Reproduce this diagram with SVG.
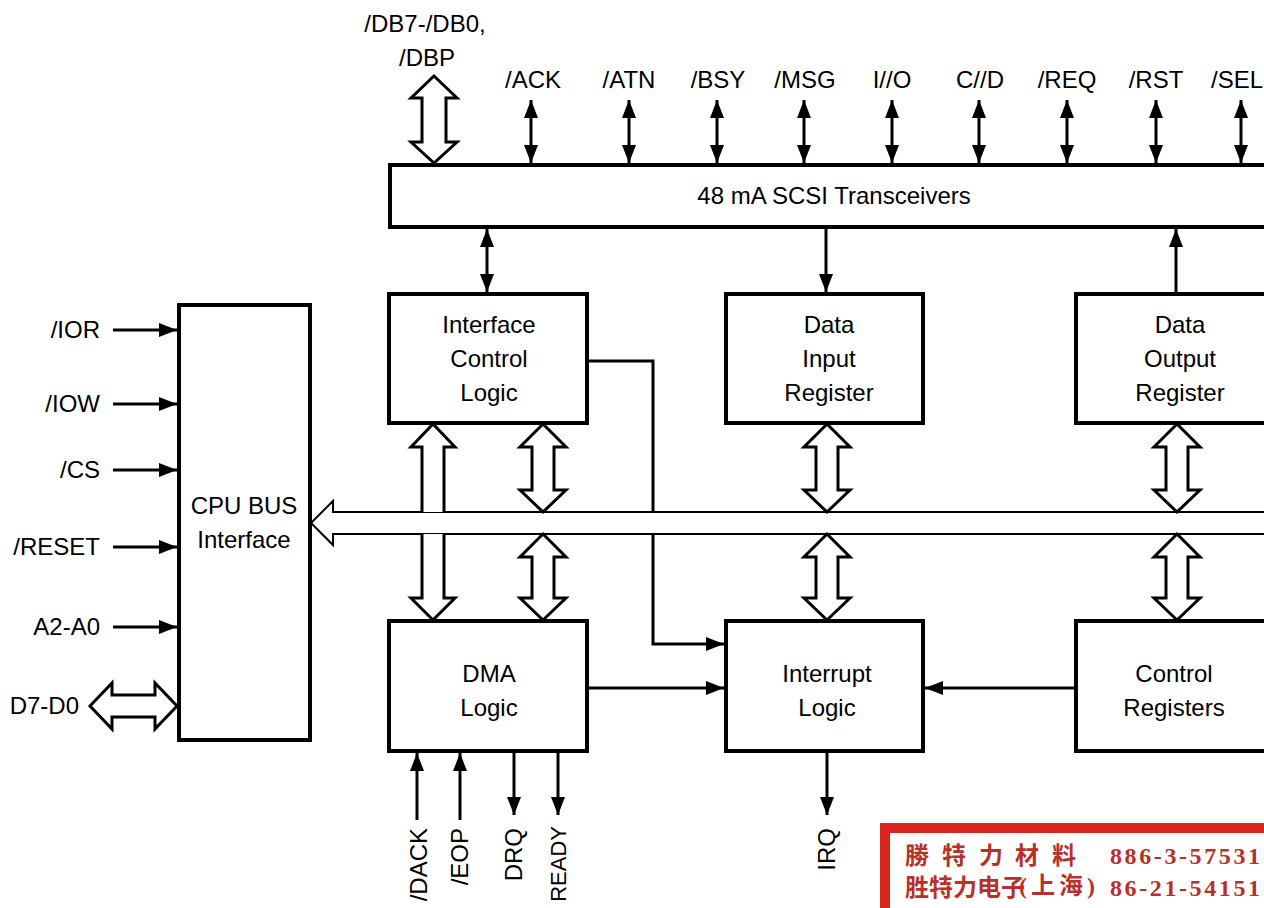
<svg xmlns="http://www.w3.org/2000/svg" width="1264" height="908" viewBox="0 0 1264 908">
<defs>
<style>
text{font-family:"Liberation Sans",Arial,sans-serif;font-size:24px;fill:#000}
.c{text-anchor:middle}
.r{text-anchor:end}
.box{fill:#fff;stroke:#000;stroke-width:4}
.ln{fill:none;stroke:#000;stroke-width:3}
.bus{fill:none;stroke:#000;stroke-width:2}
.ha{fill:#fff;stroke:#000;stroke-width:3;stroke-linejoin:miter}
.stamp{font-family:"Liberation Serif","Noto Sans CJK TC",serif;font-weight:bold;fill:#b8302a}
</style>
<marker id="ah" markerWidth="18" markerHeight="14" refX="18" refY="7" orient="auto-start-reverse" markerUnits="userSpaceOnUse">
<path d="M0,0 L18,7 L0,14 z" fill="#000"/>
</marker>
</defs>
<rect width="1264" height="908" fill="#fff"/>

<g id="transceivers">
<rect class="box" x="390" y="165" width="900" height="62"/>
<text class="c" x="834" y="204">48 mA SCSI Transceivers</text>
</g>

<g id="cpu-bus-interface">
<rect class="box" x="179" y="305" width="131" height="435"/>
<text class="c" x="244" y="514">CPU BUS</text>
<text class="c" x="244" y="548">Interface</text>
</g>

<g id="interface-control-logic">
<rect class="box" x="389" y="294" width="198" height="129"/>
<text class="c" x="489" y="333">Interface</text>
<text class="c" x="489" y="367">Control</text>
<text class="c" x="489" y="401">Logic</text>
</g>

<g id="data-input-register">
<rect class="box" x="726" y="294" width="197" height="129"/>
<text class="c" x="829" y="333">Data</text>
<text class="c" x="829" y="367">Input</text>
<text class="c" x="829" y="401">Register</text>
</g>

<g id="data-output-register">
<rect class="box" x="1076" y="294" width="210" height="129"/>
<text class="c" x="1180" y="333">Data</text>
<text class="c" x="1180" y="367">Output</text>
<text class="c" x="1180" y="401">Register</text>
</g>

<g id="dma-logic">
<rect class="box" x="389" y="621" width="198" height="130"/>
<text class="c" x="489" y="682">DMA</text>
<text class="c" x="489" y="716">Logic</text>
</g>

<g id="interrupt-logic">
<rect class="box" x="726" y="621" width="197" height="130"/>
<text class="c" x="827" y="682">Interrupt</text>
<text class="c" x="827" y="716">Logic</text>
</g>

<g id="control-registers">
<rect class="box" x="1076" y="621" width="210" height="130"/>
<text class="c" x="1174" y="682">Control</text>
<text class="c" x="1174" y="716">Registers</text>
</g>

<g id="connectors">
<path class="ha" d="M434,76 L457,98 L446,98 L446,142 L457,142 L434,163 L411,142 L422,142 L422,98 L411,98 Z"/>
<line class="ln" x1="531" y1="100" x2="531" y2="163" marker-start="url(#ah)" marker-end="url(#ah)"/>
<line class="ln" x1="629" y1="100" x2="629" y2="163" marker-start="url(#ah)" marker-end="url(#ah)"/>
<line class="ln" x1="717" y1="100" x2="717" y2="163" marker-start="url(#ah)" marker-end="url(#ah)"/>
<line class="ln" x1="804" y1="100" x2="804" y2="163" marker-start="url(#ah)" marker-end="url(#ah)"/>
<line class="ln" x1="892" y1="100" x2="892" y2="163" marker-start="url(#ah)" marker-end="url(#ah)"/>
<line class="ln" x1="979" y1="100" x2="979" y2="163" marker-start="url(#ah)" marker-end="url(#ah)"/>
<line class="ln" x1="1067" y1="100" x2="1067" y2="163" marker-start="url(#ah)" marker-end="url(#ah)"/>
<line class="ln" x1="1156" y1="100" x2="1156" y2="163" marker-start="url(#ah)" marker-end="url(#ah)"/>
<line class="ln" x1="1241" y1="100" x2="1241" y2="163" marker-start="url(#ah)" marker-end="url(#ah)"/>

<line class="ln" x1="487" y1="229" x2="487" y2="292" marker-start="url(#ah)" marker-end="url(#ah)"/>
<line class="ln" x1="826" y1="229" x2="826" y2="292" marker-end="url(#ah)"/>
<line class="ln" x1="1176" y1="292" x2="1176" y2="229" marker-end="url(#ah)"/>

<line class="ln" x1="113" y1="330" x2="177" y2="330" marker-end="url(#ah)"/>
<line class="ln" x1="113" y1="404" x2="177" y2="404" marker-end="url(#ah)"/>
<line class="ln" x1="113" y1="470" x2="177" y2="470" marker-end="url(#ah)"/>
<line class="ln" x1="113" y1="547" x2="177" y2="547" marker-end="url(#ah)"/>
<line class="ln" x1="113" y1="627" x2="177" y2="627" marker-end="url(#ah)"/>
<path class="ha" d="M90,706 L112,683 L112,695 L155,695 L155,683 L177,706 L155,729 L155,717 L112,717 L112,729 Z"/>

<path class="bus" d="M1290,512 H333 V501 L311,523 L333,545 V534 H1290"/>

<path class="ha" d="M422,512 V447 H411 L433,424 L455,447 H444 V512"/>
<path class="ha" d="M422,534 V598 H411 L433,620 L455,598 H444 V534"/>

<path class="ha" d="M543,424 L566,447 L554,447 L554,490 L566,490 L543,512 L520,490 L532,490 L532,447 L520,447 Z"/>
<path class="ha" d="M543,534 L566,557 L554,557 L554,598 L566,598 L543,620 L520,598 L532,598 L532,557 L520,557 Z"/>
<path class="ha" d="M827,424 L850,447 L838,447 L838,490 L850,490 L827,512 L804,490 L816,490 L816,447 L804,447 Z"/>
<path class="ha" d="M827,534 L850,557 L838,557 L838,598 L850,598 L827,620 L804,598 L816,598 L816,557 L804,557 Z"/>
<path class="ha" d="M1177,424 L1200,447 L1188,447 L1188,490 L1200,490 L1177,512 L1154,490 L1166,490 L1166,447 L1154,447 Z"/>
<path class="ha" d="M1177,534 L1200,557 L1188,557 L1188,598 L1200,598 L1177,620 L1154,598 L1166,598 L1166,557 L1154,557 Z"/>

<path class="ln" d="M589,361 H653 V512"/>
<path class="ln" d="M653,534 V644 H724" marker-end="url(#ah)"/>

<line class="ln" x1="589" y1="688" x2="724" y2="688" marker-end="url(#ah)"/>
<line class="ln" x1="1074" y1="688" x2="925" y2="688" marker-end="url(#ah)"/>

<line class="ln" x1="417" y1="820" x2="417" y2="753" marker-end="url(#ah)"/>
<line class="ln" x1="460" y1="820" x2="460" y2="753" marker-end="url(#ah)"/>
<line class="ln" x1="514" y1="753" x2="514" y2="815" marker-end="url(#ah)"/>
<line class="ln" x1="558" y1="753" x2="558" y2="815" marker-end="url(#ah)"/>
<line class="ln" x1="827" y1="753" x2="827" y2="815" marker-end="url(#ah)"/>
</g>

<g id="labels">
<text class="c" x="425" y="32">/DB7-/DB0,</text>
<text class="c" x="427" y="66">/DBP</text>
<text class="c" x="533" y="88">/ACK</text>
<text class="c" x="629" y="88">/ATN</text>
<text class="c" x="718" y="88">/BSY</text>
<text class="c" x="805" y="88">/MSG</text>
<text class="c" x="892" y="88">I//O</text>
<text class="c" x="980" y="88">C//D</text>
<text class="c" x="1067" y="88">/REQ</text>
<text class="c" x="1156" y="88">/RST</text>
<text x="1211" y="88">/SEL</text>

<text class="r" x="100" y="338">/IOR</text>
<text class="r" x="100" y="412">/IOW</text>
<text class="r" x="100" y="478">/CS</text>
<text class="r" x="100" y="555">/RESET</text>
<text class="r" x="100" y="635">A2-A0</text>
<text class="r" x="79" y="714">D7-D0</text>

<text class="r" transform="translate(427,828) rotate(-90)">/DACK</text>
<text class="r" transform="translate(468,828) rotate(-90)">/EOP</text>
<text class="r" transform="translate(522,828) rotate(-90)">DRQ</text>
<text class="r" transform="translate(566,826) rotate(-90)" style="font-size:22px">READY</text>
<text class="r" transform="translate(835,828) rotate(-90)">IRQ</text>
</g>

<g id="stamp">
<rect x="885" y="828" width="420" height="100" fill="#fff" stroke="#d8261c" stroke-width="10"/>
<text class="stamp" font-size="23" y="864"><tspan x="905">勝</tspan><tspan x="942">特</tspan><tspan x="979">力</tspan><tspan x="1015">材</tspan><tspan x="1052">料</tspan></text>
<text class="stamp" font-size="24" x="1110" y="864" textLength="150" lengthAdjust="spacing">886-3-57531</text>
<text class="stamp" font-size="23" x="905" y="896">胜特力电子</text>
<text class="stamp" font-size="17" x="1019" y="894" textLength="76" lengthAdjust="spacing">(上海)</text>
<text class="stamp" font-size="24" x="1110" y="896" textLength="150" lengthAdjust="spacing">86-21-54151</text>
</g>
</svg>
